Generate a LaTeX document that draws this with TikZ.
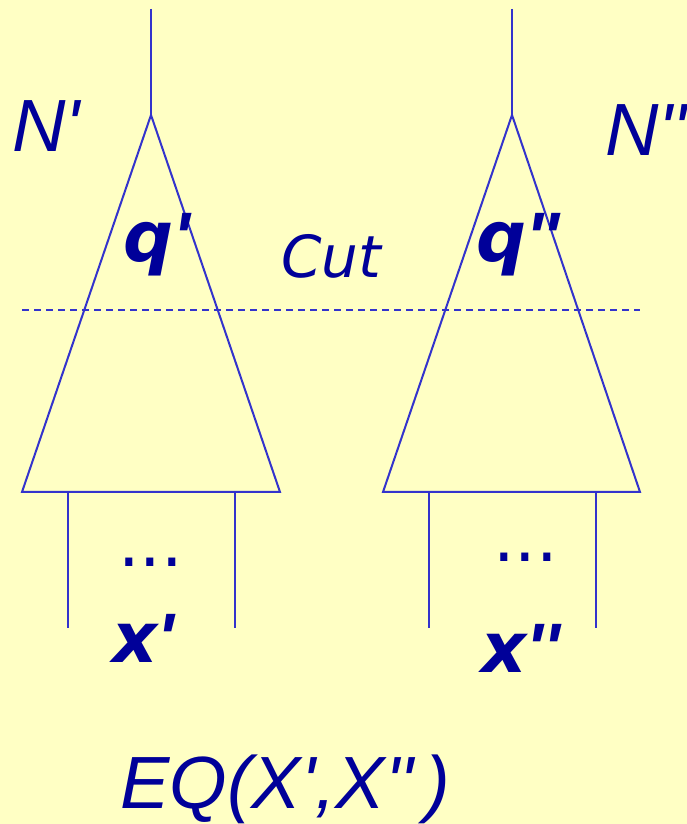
\documentclass[tikz,border=0pt]{standalone}
\usepackage{fontspec}
\setmainfont{Liberation Sans}[Ligatures=TeXOff]
\newfontfamily\verdanafont{DejaVu Sans}[Ligatures=TeXOff]
\usepackage{tikz}

\definecolor{bgyellow}{RGB}{255,255,196}
\definecolor{treeline}{RGB}{51,51,204}
\definecolor{labelblue}{RGB}{0,0,153}

\newcommand{\pr}{{\rmfamily\symbol{39}}}

\tikzset{
  treeedge/.style={treeline, line width=2pt},
  cutline/.style={treeline, line width=1.4pt, dash pattern=on 7pt off 5pt},
  bigname/.style={labelblue, anchor=base west, inner sep=0pt, font=\fontsize{74}{74}\selectfont\itshape},
  bolditem/.style={labelblue, anchor=base west, inner sep=0pt, font=\verdanafont\fontsize{70}{70}\selectfont\bfseries\itshape},
  cutlabel/.style={labelblue, anchor=base west, inner sep=0pt, font=\verdanafont\fontsize{58}{58}\selectfont\itshape},
  dotslabel/.style={labelblue, anchor=base west, inner sep=0pt, font=\verdanafont\fontsize{68}{68}\selectfont}
}

\begin{document}
\begin{tikzpicture}[x=1pt,y=1pt]
        \fill[bgyellow] (0,0) rectangle (687,824);
        \useasboundingbox (0,0) rectangle (687,824);

        % left tree N'
        \coordinate (l-root) at (151,815);
        \coordinate (l-apex) at (151,709);
        \coordinate (l-bl) at (22,332);
        \coordinate (l-br) at (280,332);
        \coordinate (l-leg1) at (68,332);
        \coordinate (l-leg2) at (235,332);
        \coordinate (l-end1) at (68,196);
        \coordinate (l-end2) at (235,196);

        % right tree N''
        \coordinate (r-root) at (512,815);
        \coordinate (r-apex) at (512,709);
        \coordinate (r-bl) at (383,332);
        \coordinate (r-br) at (640,332);
        \coordinate (r-leg1) at (429,332);
        \coordinate (r-leg2) at (596,332);
        \coordinate (r-end1) at (429,196);
        \coordinate (r-end2) at (596,196);

        % cut
        \coordinate (cut-a) at (22,514);
        \coordinate (cut-b) at (640,514);

        \draw[treeedge] (l-root) -- (l-apex);
        \draw[treeedge] (l-apex) -- (l-bl) -- (l-br) -- cycle;
        \draw[treeedge] (l-leg1) -- (l-end1);
        \draw[treeedge] (l-leg2) -- (l-end2);

        \draw[treeedge] (r-root) -- (r-apex);
        \draw[treeedge] (r-apex) -- (r-bl) -- (r-br) -- cycle;
        \draw[treeedge] (r-leg1) -- (r-end1);
        \draw[treeedge] (r-leg2) -- (r-end2);

        \draw[cutline] (cut-a) -- (cut-b);

        \node[bigname] (nl) at (12,672) {N\pr};
        \node[bigname] (nr) at (605,668) {N\pr\pr};
        \node[bolditem] (ql) at (123,562) {q\pr};
        \node[bolditem] (qr) at (476,562) {q\pr\pr};
        \node[cutlabel] (cut) at (281,546) {Cut};
        \node[dotslabel] (dl) at (118,257) {...};
        \node[dotslabel] (dr) at (493,262) {...};
        \node[bolditem] (xl) at (112,161) {x\pr};
        \node[bolditem] (xr) at (481,151) {x\pr\pr};
        \node[bigname] (eq) at (120,16) {EQ(X\pr,X\pr\pr\,)};
\end{tikzpicture}
\end{document}
